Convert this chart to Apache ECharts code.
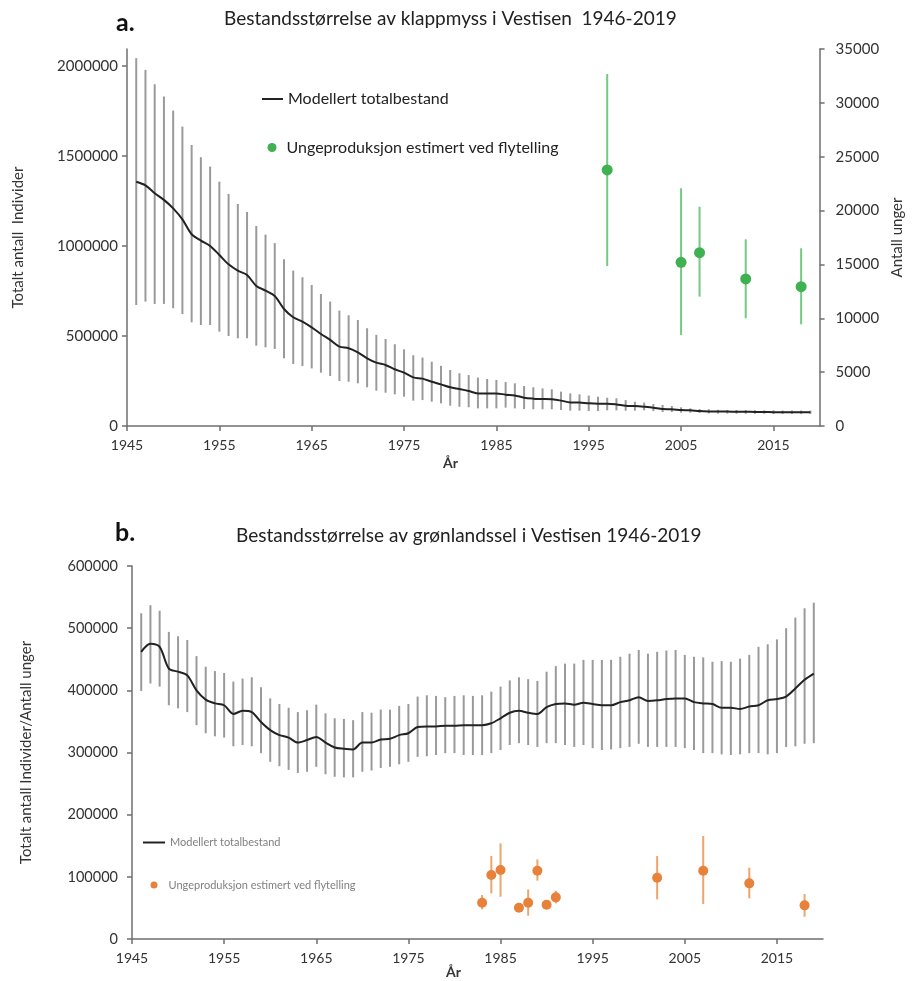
<!DOCTYPE html>
<html>
<head>
<meta charset="utf-8">
<script src="https://cdn.jsdelivr.net/npm/echarts@6/dist/echarts.min.js"></script>
<style>
html,body{margin:0;padding:0;background:#fff;}
#c{width:913px;height:981px;}
</style>
</head>
<body>
<div id="c"></div>
<script>
// ---------- Data: chart a (klappmyss) ----------
const yearsA = [];
for (let y = 1946; y <= 2019; y++) yearsA.push(y);
const modelA = [1357000,1337000,1293000,1256000,1209000,1148000,1065000,1030000,1000000,950000,898000,863000,839000,778000,752000,722000,650000,604000,580000,548000,511000,478000,441000,432000,409000,376000,352000,339000,315000,296000,270000,263000,246000,231000,215000,205000,194000,181000,181000,181000,174000,170000,157000,152000,150000,148000,141000,131000,130000,126000,124000,124000,120000,113000,111000,107000,102000,94000,93000,89000,87000,83000,81000,80000,80000,79000,79000,78000,78000,77000,77000,77000,77000,77000];
const upperA = [2043000,1978000,1898000,1830000,1752000,1663000,1561000,1493000,1441000,1357000,1289000,1233000,1189000,1111000,1063000,1016000,926000,863000,826000,783000,733000,691000,641000,615000,589000,543000,506000,483000,454000,426000,393000,380000,357000,334000,311000,293000,283000,269000,261000,256000,244000,237000,222000,215000,209000,204000,191000,181000,176000,169000,163000,157000,154000,144000,135000,130000,122000,117000,111000,104000,98000,94000,93000,90000,89000,89000,88000,88000,87000,87000,86000,86000,86000,86000];
const lowerA = [672000,691000,678000,678000,654000,622000,576000,561000,561000,524000,500000,487000,487000,446000,437000,428000,376000,344000,333000,320000,296000,278000,250000,246000,237000,215000,196000,185000,176000,163000,141000,144000,135000,126000,113000,107000,104000,98000,98000,98000,102000,98000,94000,93000,93000,93000,89000,85000,85000,83000,83000,87000,87000,85000,85000,87000,83000,78000,78000,74000,74000,72000,70000,69000,69000,68000,68000,68000,68000,67000,67000,67000,67000,67000];
const pupYearsA = [1997,2005,2007,2012,2018];
const pupA = [23770,15200,16090,13650,12930];
const pupLowA = [14850,8450,12010,10000,9440];
const pupHighA = [32680,22070,20360,17330,16500];

// ---------- Data: chart b (grønlandssel) ----------
const yearsB = yearsA.slice();
const modelB = [462000,475000,470000,435000,430000,424000,400000,385000,379000,376000,362000,367000,365000,349000,336000,328000,324000,316000,320000,325000,316000,308000,306000,305000,316000,316000,321000,322000,328000,331000,341000,342000,342000,343000,343000,344000,344000,344000,347000,355000,364000,367000,364000,362000,373000,378000,379000,377000,380000,378000,376000,376000,381000,384000,389000,383000,384000,386000,387000,387000,381000,379000,378000,372000,372000,370000,374000,376000,384000,386000,390000,403000,417000,427000];
const upperB = [524000,537000,528000,494000,487000,481000,455000,438000,431000,428000,414000,419000,421000,405000,387000,378000,372000,365000,368000,377000,363000,355000,354000,352000,365000,364000,369000,369000,375000,378000,390000,392000,391000,389000,391000,392000,391000,392000,398000,406000,416000,421000,418000,415000,430000,439000,443000,443000,449000,449000,449000,449000,454000,459000,465000,459000,462000,464000,465000,457000,454000,453000,446000,447000,446000,451000,457000,470000,474000,482000,500000,517000,532000,541000];
const lowerB = [399000,411000,406000,376000,371000,365000,344000,331000,326000,324000,310000,312000,310000,299000,285000,278000,272000,267000,269000,277000,265000,261000,260000,260000,269000,271000,275000,277000,281000,285000,293000,294000,296000,299000,299000,296000,296000,296000,299000,304000,312000,315000,312000,309000,315000,315000,312000,309000,312000,307000,304000,305000,307000,309000,314000,309000,309000,309000,309000,307000,304000,299000,299000,297000,296000,297000,299000,299000,297000,299000,309000,310000,314000,315000];
const pupYearsB = [1983,1984,1985,1987,1988,1989,1990,1991,2002,2007,2012,2018];
const pupB = [58400,102900,110900,50400,58400,109800,55200,67000,98600,109800,89500,54100];
const pupLowB = [47700,73400,68000,50400,37500,93800,55200,57400,63800,56300,65400,35900];
const pupHighB = [70700,133400,153800,50400,79800,128000,55200,77700,133400,165600,114700,72300];

// ---------- Text ----------
const titleA = 'Bestandsstørrelse av klappmyss i Vestisen  1946-2019';
const titleB = 'Bestandsstørrelse av grønlandssel i Vestisen 1946-2019';
const nameModel = 'Modellert totalbestand';
const namePup = 'Ungeproduksjon estimert ved flytelling';

// ---------- Build ----------
const FONT = 'Lato';
const zip = (xs, a) => xs.map((x, i) => [x, a[i]]);
const zip3 = (xs, a, b) => xs.map((x, i) => [x, a[i], b[i]]);
const plain = v => String(v);

function errRender(color, width) {
  return function (params, api) {
    const x = api.value(0);
    const p1 = api.coord([x, api.value(1)]);
    const p2 = api.coord([x, api.value(2)]);
    return {
      type: 'line',
      shape: { x1: p1[0], y1: p1[1], x2: p2[0], y2: p2[1] },
      style: { stroke: color, lineWidth: width }
    };
  };
}

const axisLine = { show: true, lineStyle: { color: '#6f6f6f', width: 1.5 } };
const axisTick = { show: true, length: 5, lineStyle: { color: '#6f6f6f', width: 1.5 } };
const lbl = { color: '#333', fontFamily: FONT, fontSize: 14, formatter: plain };
const GREEN = '#3fb152', ORANGE = '#e8823a';

const chart = echarts.init(document.getElementById('c'), null, { renderer: 'canvas' });
chart.setOption({
  backgroundColor: '#fff',
  animation: false,
  textStyle: { fontFamily: FONT },
  title: [
    { text: 'a.', left: 116, top: 10, padding: 0, textStyle: { fontFamily: FONT, fontSize: 25, fontWeight: 'bold', color: '#111' } },
    { text: titleA, left: 224, top: 9, padding: 0, textStyle: { fontFamily: FONT, fontSize: 19, fontWeight: 'normal', color: '#222' } },
    { text: 'År', left: 443, top: 456, padding: 0, textStyle: { fontFamily: FONT, fontSize: 14, fontWeight: 'bold', color: '#333' } },
    { text: 'b.', left: 115, top: 520, padding: 0, textStyle: { fontFamily: FONT, fontSize: 25, fontWeight: 'bold', color: '#111' } },
    { text: titleB, left: 236, top: 526, padding: 0, textStyle: { fontFamily: FONT, fontSize: 19, fontWeight: 'normal', color: '#222' } },
    { text: 'År', left: 446, top: 965, padding: 0, textStyle: { fontFamily: FONT, fontSize: 14, fontWeight: 'bold', color: '#333' } }
  ],
  legend: [
    { left: 262, top: 91, padding: 0, itemWidth: 21, itemHeight: 2, icon: 'rect',
      textStyle: { fontFamily: FONT, fontSize: 16, color: '#222' },
      data: [{ name: nameModel, itemStyle: { color: '#222' } }] },
    { left: 267.5, top: 139.5, padding: 0, itemWidth: 9, itemHeight: 9, icon: 'circle',
      textStyle: { fontFamily: FONT, fontSize: 16, color: '#222', padding: [0, 0, 0, 5] },
      data: [{ name: namePup, itemStyle: { color: GREEN } }] },
    { left: 143, top: 837, padding: 0, itemWidth: 22, itemHeight: 2, icon: 'rect',
      textStyle: { fontFamily: FONT, fontSize: 11, color: '#808080' },
      data: [{ name: nameModel, itemStyle: { color: '#222' } }] },
    { left: 150.5, top: 879.5, padding: 0, itemWidth: 7, itemHeight: 7, icon: 'circle',
      textStyle: { fontFamily: FONT, fontSize: 11, color: '#808080', padding: [0, 0, 0, 6] },
      data: [{ name: namePup, itemStyle: { color: ORANGE } }] }
  ],
  grid: [
    { left: 127, right: 87, top: 49, bottom: 555 },
    { left: 132, right: 90, top: 566, bottom: 42 }
  ],
  xAxis: [
    { type: 'value', gridIndex: 0, min: 1945, max: 2020, interval: 10, splitLine: { show: false },
      axisLine: axisLine, axisTick: axisTick, axisLabel: Object.assign({ margin: 12, showMaxLabel: false }, lbl) },
    { type: 'value', gridIndex: 1, min: 1945, max: 2020, interval: 10, splitLine: { show: false },
      axisLine: axisLine, axisTick: axisTick, axisLabel: Object.assign({ margin: 12, showMaxLabel: false }, lbl) }
  ],
  yAxis: [
    { type: 'value', gridIndex: 0, min: 0, max: 2094000, interval: 500000, splitLine: { show: false },
      axisLine: axisLine, axisTick: axisTick, axisLabel: Object.assign({}, lbl, { margin: 9, showMaxLabel: false, fontSize: 15 }),
      name: 'Totalt antall  Individer', nameLocation: 'middle', nameRotate: 90, nameGap: 101,
      nameTextStyle: { fontFamily: FONT, fontSize: 15, color: '#333' } },
    { type: 'value', gridIndex: 0, position: 'right', min: 0, max: 35000, interval: 5000, splitLine: { show: false },
      axisLine: axisLine, axisTick: axisTick, axisLabel: Object.assign({}, lbl, { margin: 16, fontSize: 15 }),
      name: 'Antall unger', nameLocation: 'middle', nameRotate: 90, nameGap: 70,
      nameTextStyle: { fontFamily: FONT, fontSize: 15, color: '#333' } },
    { type: 'value', gridIndex: 1, min: 0, max: 600000, interval: 100000, splitLine: { show: false },
      axisLine: axisLine, axisTick: axisTick, axisLabel: Object.assign({}, lbl, { margin: 14, fontSize: 14.5 }),
      name: 'Totalt antall Individer/Antall unger', nameLocation: 'middle', nameRotate: 90, nameGap: 98,
      nameTextStyle: { fontFamily: FONT, fontSize: 15, color: '#333' } }
  ],
  series: [
    // chart a
    { type: 'custom', name: 'errA', xAxisIndex: 0, yAxisIndex: 0, z: 1,
      renderItem: errRender('#9a9a9a', 2), encode: { x: 0, y: [1, 2] },
      data: zip3(yearsA, lowerA, upperA) },
    { type: 'line', name: nameModel, xAxisIndex: 0, yAxisIndex: 0, z: 3, symbol: 'none', smooth: 0.3,
      lineStyle: { color: '#222', width: 2 }, itemStyle: { color: '#222' },
      data: zip(yearsA, modelA) },
    { type: 'custom', name: 'errPupA', xAxisIndex: 0, yAxisIndex: 1, z: 2,
      renderItem: errRender('#74c983', 2), encode: { x: 0, y: [1, 2] },
      data: zip3(pupYearsA, pupLowA, pupHighA) },
    { type: 'scatter', name: namePup, xAxisIndex: 0, yAxisIndex: 1, z: 4, symbolSize: 11,
      itemStyle: { color: GREEN, opacity: 1 },
      data: zip(pupYearsA, pupA) },
    // chart b
    { type: 'custom', name: 'errB', xAxisIndex: 1, yAxisIndex: 2, z: 1,
      renderItem: errRender('#9a9a9a', 2), encode: { x: 0, y: [1, 2] },
      data: zip3(yearsB, lowerB, upperB) },
    { type: 'line', name: nameModel, xAxisIndex: 1, yAxisIndex: 2, z: 3, symbol: 'none', smooth: 0.3,
      lineStyle: { color: '#222', width: 2 }, itemStyle: { color: '#222' },
      data: zip(yearsB, modelB) },
    { type: 'custom', name: 'errPupB', xAxisIndex: 1, yAxisIndex: 2, z: 2,
      renderItem: errRender('#eea46c', 2), encode: { x: 0, y: [1, 2] },
      data: zip3(pupYearsB, pupLowB, pupHighB) },
    { type: 'scatter', name: namePup, xAxisIndex: 1, yAxisIndex: 2, z: 4, symbolSize: 10,
      itemStyle: { color: ORANGE, opacity: 1 },
      data: zip(pupYearsB, pupB) }
  ]
});
</script>
</body>
</html>
